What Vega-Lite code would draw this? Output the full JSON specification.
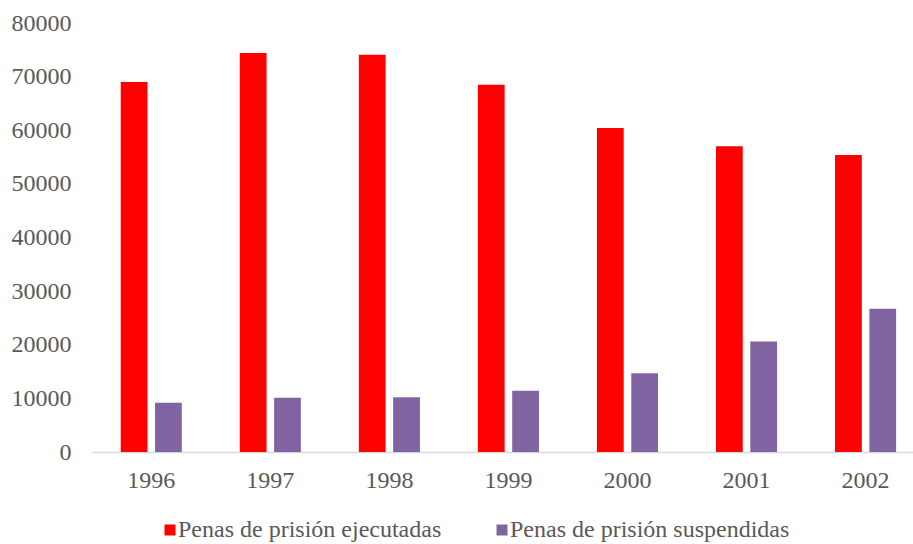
{
  "$schema": "https://vega.github.io/schema/vega-lite/v6.json",
  "autosize": {"type": "none"},
  "width": 821,
  "height": 429,
  "padding": {"left": 92, "top": 23, "right": 0, "bottom": 92},
  "background": "white",
  "config": {
    "view": {"stroke": null}
  },
  "data": {
    "values": [
      {"year": "1996", "serie": "Penas de prisión ejecutadas", "valor": 69000},
      {"year": "1997", "serie": "Penas de prisión ejecutadas", "valor": 74400},
      {"year": "1998", "serie": "Penas de prisión ejecutadas", "valor": 74100},
      {"year": "1999", "serie": "Penas de prisión ejecutadas", "valor": 68500},
      {"year": "2000", "serie": "Penas de prisión ejecutadas", "valor": 60400},
      {"year": "2001", "serie": "Penas de prisión ejecutadas", "valor": 57000},
      {"year": "2002", "serie": "Penas de prisión ejecutadas", "valor": 55400},
      {"year": "1996", "serie": "Penas de prisión suspendidas", "valor": 9200},
      {"year": "1997", "serie": "Penas de prisión suspendidas", "valor": 10100},
      {"year": "1998", "serie": "Penas de prisión suspendidas", "valor": 10200},
      {"year": "1999", "serie": "Penas de prisión suspendidas", "valor": 11400},
      {"year": "2000", "serie": "Penas de prisión suspendidas", "valor": 14700},
      {"year": "2001", "serie": "Penas de prisión suspendidas", "valor": 20600},
      {"year": "2002", "serie": "Penas de prisión suspendidas", "valor": 26700}
    ]
  },
  "mark": {"type": "bar"},
  "encoding": {
    "x": {
      "field": "year",
      "type": "nominal",
      "title": null,
      "scale": {"paddingInner": 0.487, "paddingOuter": 0.1916, "align": 0.63},
      "axis": {
        "labelAngle": 0,
        "labelFont": "Liberation Serif",
        "labelFontSize": 24,
        "labelColor": "#595959",
        "grid": false,
        "ticks": false,
        "domain": true,
        "domainColor": "#d9d9d9",
        "domainWidth": 1.5,
        "labelPadding": 16
      }
    },
    "xOffset": {
      "field": "serie",
      "type": "nominal",
      "scale": {"paddingInner": 0.22, "paddingOuter": 0}
    },
    "y": {
      "field": "valor",
      "type": "quantitative",
      "title": null,
      "scale": {"domain": [0, 80000]},
      "axis": {
        "values": [0, 10000, 20000, 30000, 40000, 50000, 60000, 70000, 80000],
        "format": "d",
        "labelFont": "Liberation Serif",
        "labelFontSize": 24,
        "labelColor": "#595959",
        "grid": false,
        "ticks": false,
        "domain": false,
        "labelPadding": 21
      }
    },
    "color": {
      "field": "serie",
      "type": "nominal",
      "scale": {
        "domain": ["Penas de prisión ejecutadas", "Penas de prisión suspendidas"],
        "range": ["#FF0000", "#8064A2"]
      },
      "legend": {
        "title": null,
        "orient": "none",
        "direction": "horizontal",
        "legendX": 66,
        "legendY": 495,
        "labelFont": "Liberation Serif",
        "labelFontSize": 24,
        "labelColor": "#595959",
        "labelLimit": 400,
        "symbolType": "square",
        "symbolSize": 121,
        "symbolStrokeWidth": 0,
        "labelOffset": -4,
        "columnPadding": 48
      }
    }
  }
}
